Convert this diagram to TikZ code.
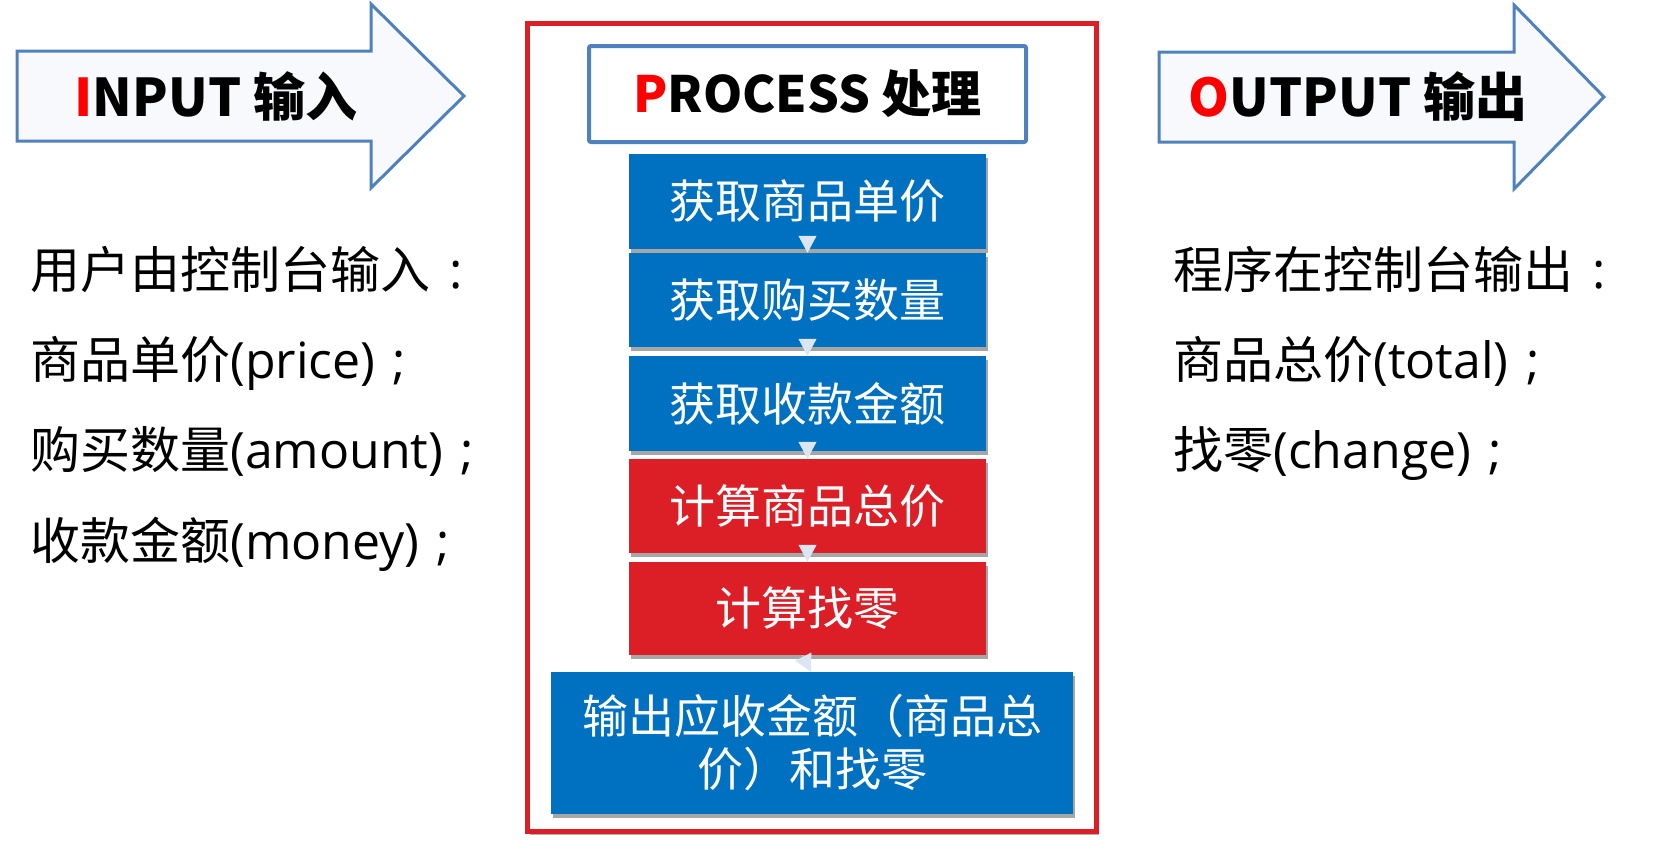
\documentclass[tikz,border=0pt]{standalone}
\usepackage{fontspec}
\setmainfont{Noto Sans CJK SC}
\newfontfamily\lat{Open Sans}
\usetikzlibrary{shadows,arrows.meta}
\definecolor{arrowline}{HTML}{4F81BD}
\definecolor{arrowfill}{HTML}{F7F9FC}
\definecolor{boxblue}{HTML}{0070C0}
\definecolor{boxred}{HTML}{DC1E27}
\definecolor{framered}{HTML}{DC1E27}
\definecolor{tri}{HTML}{DCE6F2}
\newcommand{\semi}{{\lat\hspace{0.35em};}}
\newcommand{\colo}{{\lat\hspace{0.38em}:}}
\begin{document}
\begin{tikzpicture}[x=1pt,y=-1pt,
  bigarrow/.style={draw=arrowline, line width=3pt, fill=arrowfill, line join=miter},
  titletext/.style={font=\fontsize{52}{60}\selectfont\bfseries, inner sep=0},
  stepbox/.style={inner sep=0, minimum width=357pt, text=white, align=center,
     font=\fontsize{46}{53}\selectfont,
     drop shadow={shadow xshift=1.5pt, shadow yshift=-3.5pt, fill=black, opacity=0.35}},
  bluebox/.style={stepbox, fill=boxblue},
  redbox/.style={stepbox, fill=boxred},
  flowarrow/.style={draw=tri, line width=0.5pt, -{Triangle[width=18pt,length=17pt]}},
  listtext/.style={font=\fontsize{50}{60}\selectfont, inner sep=0, anchor=base west},
]
\useasboundingbox (0,0) rectangle (1654,849);

% red frame
\node[draw=framered, line width=5pt, fill=white, minimum width=569pt, minimum height=808pt, inner sep=0,
  drop shadow={shadow xshift=2.5pt, shadow yshift=-3.5pt, fill=black, opacity=0.3}] (frame) at (811.5,427) {};

% process title box
\node[draw=arrowline, line width=4pt, fill=white, rounded corners=2pt, minimum width=437pt, minimum height=96pt, inner sep=0,
  font=\fontsize{50}{60}\selectfont\bfseries] (proc) at (807.5,94) {{\color{red}P}ROCESS 处理};

% steps
\node[bluebox, minimum height=95pt] (b1) at (807.5,201.5) {获取商品单价};
\node[bluebox, minimum height=94pt] (b2) at (807.5,300) {获取购买数量};
\node[bluebox, minimum height=95pt] (b3) at (807.5,403.5) {获取收款金额};
\node[redbox, minimum height=94pt] (b4) at (807.5,506) {计算商品总价};
\node[redbox, minimum height=93pt] (b5) at (807.5,608.5) {计算找零};
\node[bluebox, minimum width=522pt, minimum height=142pt] (b6) at (812,743) {输出应收金额（商品总\\价）和找零};

\draw[flowarrow] (b1.south) -- (b2.north);
\draw[flowarrow] (b2.south) -- (b3.north);
\draw[flowarrow] (b3.south) -- (b4.north);
\draw[flowarrow] (b4.south) -- (b5.north);
\draw[flowarrow] ([xshift=-5pt]b5.south) -- ([xshift=-1pt]b6.north);

% input arrow
\draw[bigarrow] (17,51) -- (371,51) -- (371,4) -- (464,96) -- (371,188) -- (371,141) -- (17,141) -- cycle;
\node[titletext] (intitle) at (216,96) {{\color{red}I}NPUT 输入};

% output arrow
\draw[bigarrow] (1159,52) -- (1514,52) -- (1514,5) -- (1604,97) -- (1514,189) -- (1514,142) -- (1159,142) -- cycle;
\node[titletext] (outtitle) at (1358,97) {{\color{red}O}UTPUT 输出};

% input list
\node[listtext] (in1) at (30,288) {用户由控制台输入\colo};
\node[listtext] (in2) at (30,378) {商品单价{\lat(price)}\semi};
\node[listtext] (in3) at (30,468) {购买数量{\lat(amount)}\semi};
\node[listtext] (in4) at (30,559) {收款金额{\lat(money)}\semi};

% output list
\node[listtext] (out1) at (1173,288) {程序在控制台输出\colo};
\node[listtext] (out2) at (1173,378) {商品总价{\lat(total)}\semi};
\node[listtext] (out3) at (1173,468) {找零{\lat(change)}\semi};
\end{tikzpicture}
\end{document}
